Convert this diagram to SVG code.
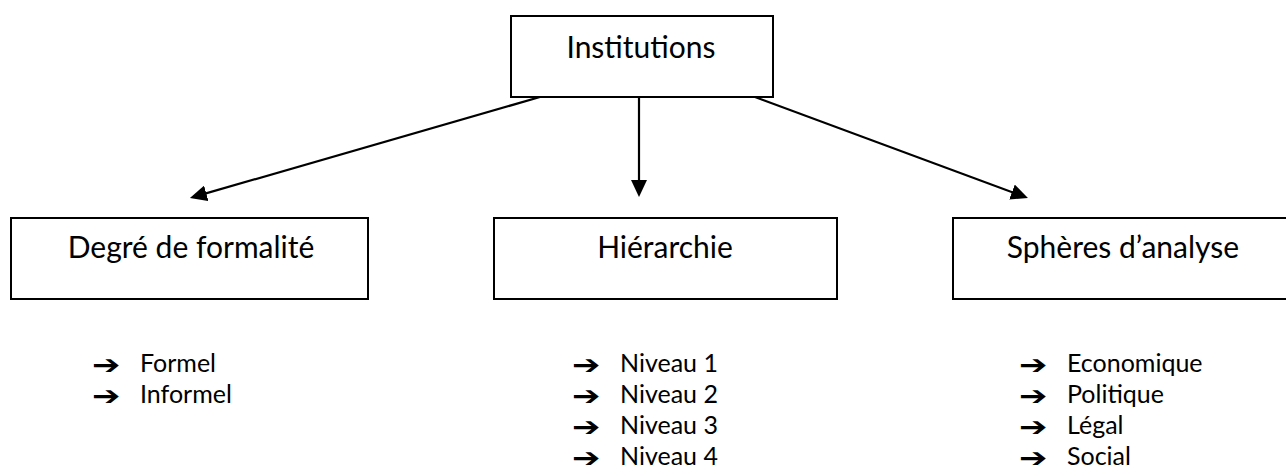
<svg xmlns="http://www.w3.org/2000/svg" width="1286" height="466" viewBox="0 0 1286 466">
  <style>
    .box { fill: #ffffff; stroke: #000000; stroke-width: 2; }
    .label { font-family: Lato, "Liberation Sans", sans-serif; font-size: 30px; fill: #000000; text-anchor: middle; }
    .item { font-family: Lato, "Liberation Sans", sans-serif; font-size: 25px; fill: #000000; }
    .bullet { font-family: "DejaVu Sans", sans-serif; font-size: 26.5px; font-weight: bold; fill: #000000; }
    .conn { stroke: #000000; stroke-width: 2.2; fill: none; marker-end: url(#arrow); }
  </style>
  <defs>
    <marker id="arrow" markerUnits="userSpaceOnUse" markerWidth="17" markerHeight="16" refX="13" refY="8" orient="auto">
      <path d="M0,0 L17,8 L0,16 Z" fill="#000000"/>
    </marker>
  </defs>
  <rect width="1286" height="466" fill="#ffffff"/>

  <g id="connectors">
    <line class="conn" x1="540" y1="97" x2="193.8" y2="196.9"/>
    <line class="conn" x1="639" y1="97" x2="639" y2="193"/>
    <line class="conn" x1="755" y1="97" x2="1024.2" y2="196.6"/>
  </g>

  <g id="institutions">
    <rect class="box" x="511" y="16" width="262" height="81"/>
    <text class="label" x="641" y="58">Institutions</text>
  </g>

  <g id="degre">
    <rect class="box" x="11" y="218" width="357" height="81"/>
    <text class="label" x="191" y="258">Degré de formalité</text>
  </g>

  <g id="hierarchie">
    <rect class="box" x="494" y="218" width="343" height="81"/>
    <text class="label" x="665" y="258">Hiérarchie</text>
  </g>

  <g id="spheres">
    <rect class="box" x="953" y="218" width="340" height="81"/>
    <text class="label" x="1123" y="258">Sphères d’analyse</text>
  </g>

  <g id="list-degre">
    <text class="bullet" transform="translate(92 374) scale(1.28 1)">➔</text>
    <text class="item" x="140" y="372">Formel</text>
    <text class="bullet" transform="translate(92 405) scale(1.28 1)">➔</text>
    <text class="item" x="140" y="403">Informel</text>
  </g>

  <g id="list-hierarchie">
    <text class="bullet" transform="translate(572 374) scale(1.28 1)">➔</text>
    <text class="item" x="620" y="372">Niveau 1</text>
    <text class="bullet" transform="translate(572 405) scale(1.28 1)">➔</text>
    <text class="item" x="620" y="403">Niveau 2</text>
    <text class="bullet" transform="translate(572 436) scale(1.28 1)">➔</text>
    <text class="item" x="620" y="434">Niveau 3</text>
    <text class="bullet" transform="translate(572 467) scale(1.28 1)">➔</text>
    <text class="item" x="620" y="465">Niveau 4</text>
  </g>

  <g id="list-spheres">
    <text class="bullet" transform="translate(1019 374) scale(1.28 1)">➔</text>
    <text class="item" x="1067" y="372">Economique</text>
    <text class="bullet" transform="translate(1019 405) scale(1.28 1)">➔</text>
    <text class="item" x="1067" y="403">Politique</text>
    <text class="bullet" transform="translate(1019 436) scale(1.28 1)">➔</text>
    <text class="item" x="1067" y="434">Légal</text>
    <text class="bullet" transform="translate(1019 467) scale(1.28 1)">➔</text>
    <text class="item" x="1067" y="465">Social</text>
  </g>
</svg>
